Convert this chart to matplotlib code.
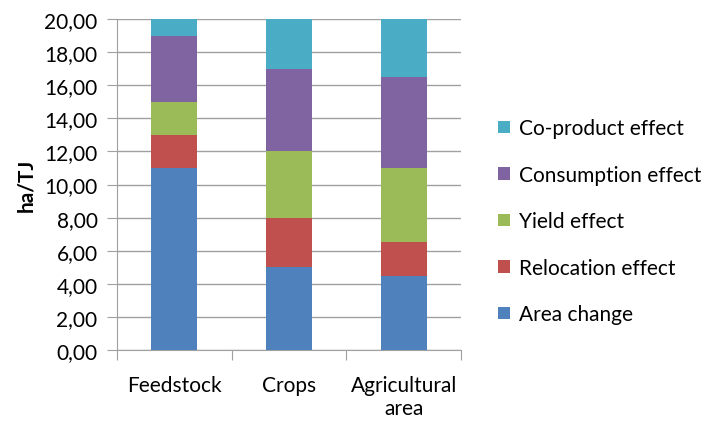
import numpy as np
import matplotlib.pyplot as plt

plt.rcParams['font.family'] = ['Lato', 'DejaVu Sans']

categories = ['Feedstock', 'Crops', 'Agricultural\narea']
series = ['Area change', 'Relocation effect', 'Yield effect', 'Consumption effect', 'Co-product effect']
area_change = [11.0, 5.0, 4.5]
relocation = [2.0, 3.0, 2.0]
yield_eff = [2.0, 4.0, 4.5]
consumption = [4.0, 5.0, 5.5]
coproduct = [1.0, 3.0, 3.5]
colors = ['#4F81BD', '#C0504D', '#9BBB59', '#8064A2', '#4BACC6']

values = [area_change, relocation, yield_eff, consumption, coproduct]

fig = plt.figure(figsize=(7.17, 4.27), dpi=100)
ax = fig.add_axes([117/717, 1 - 351/427, 344/717, 331/427])

x = np.arange(len(categories))
bottom = np.zeros(len(categories))
handles = []
for vals, name, c in zip(values, series, colors):
    h = ax.bar(x, vals, 0.4, bottom=bottom, color=c, label=name, zorder=3)
    handles.append(h)
    bottom += np.array(vals)

ax.set_xlim(-0.5, 2.5)
ax.set_ylim(0, 20)
ax.set_yticks(np.arange(0, 21, 2))
ax.set_yticklabels([f'{v:.2f}'.replace('.', ',') for v in np.arange(0, 21, 2)], fontsize=15)
ax.yaxis.grid(True, color='#A0A0A0', linewidth=1, zorder=0)
ax.tick_params(axis='y', length=7, color='#A0A0A0', pad=7)

ax.set_xticks([-0.5, 0.5, 1.5, 2.5])
ax.set_xticklabels([])
ax.set_xticks(x, minor=True)
ax.set_xticklabels(categories, minor=True, fontsize=15)
ax.tick_params(axis='x', which='major', length=7, color='#A0A0A0')
ax.tick_params(axis='x', which='minor', length=0, pad=18)

for s in ['top', 'right']:
    ax.spines[s].set_visible(False)
for s in ['left', 'bottom']:
    ax.spines[s].set_color('#A0A0A0')

ax.set_ylabel('ha/TJ', fontsize=15, fontweight='bold', labelpad=6)

leg = fig.legend(handles[::-1], series[::-1], loc='upper left', bbox_to_anchor=(490/717, 1 - 111/427),
                 frameon=False, fontsize=15, handlelength=0.55, handleheight=0.55,
                 handletextpad=0.45, labelspacing=1.27, borderaxespad=0)

fig.savefig('out.png', dpi=100)
